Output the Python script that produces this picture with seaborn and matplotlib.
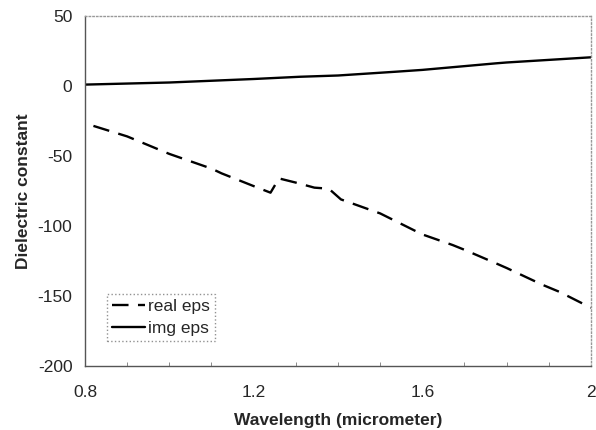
import pandas as pd
import numpy as np
import seaborn as sns
import matplotlib.pyplot as plt
from matplotlib.ticker import MultipleLocator

sns.set_style('white')
plt.rcParams['font.family'] = ['Liberation Sans', 'DejaVu Sans']
plt.rcParams['axes.unicode_minus'] = False

# real part (dashed)
real_x = [0.82, 0.9, 1.0, 1.1, 1.124, 1.2, 1.24, 1.26, 1.30, 1.344, 1.367, 1.38, 1.407, 1.5, 1.6, 1.672, 1.7, 1.775, 1.8, 1.885, 1.925, 2.0]
real_eps = [-28.5, -36, -48.5, -59, -62.4, -71.5, -76.2, -66, -69, -72.6, -73.1, -73.8, -81, -91, -106, -113.6, -117, -126.7, -130, -142, -147, -158.4]
# imaginary part (solid)
img_x = [0.8, 1.0, 1.2, 1.31, 1.4, 1.537, 1.6, 1.775, 1.8, 2.0]
img_eps = [1, 2.5, 5, 6.6, 7.5, 10.2, 11.5, 16.2, 16.8, 20.5]

df = pd.concat([
    pd.DataFrame({'x': real_x, 'y': real_eps, 'series': 'real eps'}),
    pd.DataFrame({'x': img_x, 'y': img_eps, 'series': 'img eps'}),
])

fig = plt.figure(figsize=(5.96, 4.30), dpi=100)
ax = fig.add_axes([0.1426, 0.1488, 0.849, 0.814])

sns.lineplot(data=df, x='x', y='y', hue='series', style='series',
             palette={'real eps': 'black', 'img eps': 'black'},
             dashes={'real eps': (7, 4), 'img eps': ''},
             linewidth=1.7, sort=False, estimator=None, ax=ax)

ax.set_xlim(0.8, 2.0)
ax.set_ylim(-200, 50)
ax.set_xticks([0.8, 1.2, 1.6, 2.0])
ax.set_xticklabels(['0.8', '1.2', '1.6', '2'])
ax.xaxis.set_minor_locator(MultipleLocator(0.1))
ax.set_yticks([50, 0, -50, -100, -150, -200])
ax.tick_params(axis='both', which='major', labelsize=12.5, length=4, color='#555555')
ax.tick_params(axis='x', which='major', direction='in', pad=14)
ax.tick_params(axis='y', which='major', direction='out', pad=5)
ax.tick_params(axis='x', which='minor', direction='in', length=3, bottom=True, color='#777777')
ax.set_xlabel('Wavelength (micrometer)', fontsize=12.5, fontweight='bold', labelpad=9)
ax.set_ylabel('Dielectric constant', fontsize=12.5, fontweight='bold', labelpad=5)

for side in ['left', 'bottom']:
    ax.spines[side].set_color('#555555')
    ax.spines[side].set_linewidth(1.0)
for side in ['top', 'right']:
    ax.spines[side].set_color('#999999')
    ax.spines[side].set_linestyle(':')
    ax.spines[side].set_linewidth(1.0)

leg = ax.legend(loc='lower left', bbox_to_anchor=(0.043, 0.072), fontsize=12.5,
                frameon=True, fancybox=False, handlelength=1.9, borderpad=0.3,
                labelspacing=0.35, handletextpad=0.15, borderaxespad=0)
leg.get_frame().set_edgecolor('#777777')
leg.get_frame().set_linestyle(':')
leg.get_frame().set_linewidth(1.0)
for line in leg.get_lines():
    line.set_linewidth(1.7)

fig.savefig('out.png', dpi=100)
